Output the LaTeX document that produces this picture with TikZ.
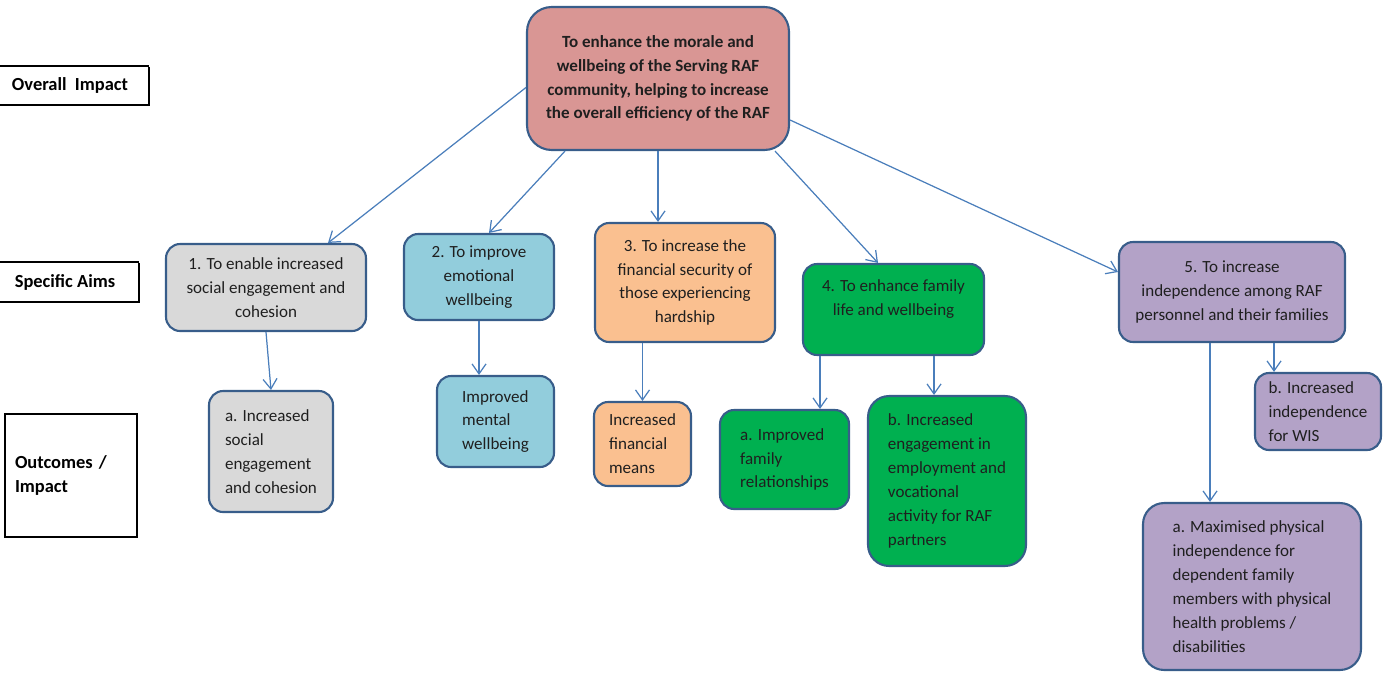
\documentclass[tikz,border=0pt]{standalone}
\usepackage{fontspec}
\setmainfont{Carlito}
\usetikzlibrary{arrows.meta,shadows}
\definecolor{edge}{HTML}{385D8A}
\definecolor{arrowblue}{HTML}{4A7EBB}
\definecolor{rafpink}{HTML}{D99694}
\definecolor{rafgray}{HTML}{D9D9D9}
\definecolor{rafblue}{HTML}{92CDDC}
\definecolor{rafpeach}{HTML}{FAC090}
\definecolor{rafgreen}{HTML}{00B050}
\definecolor{raflilac}{HTML}{B3A2C7}
\tikzset{
  box/.style  = {rectangle, draw=edge, line width=1.2pt, rounded corners=8pt,
                 align=center, inner sep=2pt, text=black!88,
                 font=\fontsize{9.7}{13.6}\selectfont},
  outc/.style = {box, align=left},
  lvl/.style  = {rectangle, draw, fill=white, line width=1.1pt, align=left, inner sep=2pt,
                 font=\fontsize{10.5}{13.6}\selectfont\bfseries,
                 drop shadow={shadow xshift=0.7pt, shadow yshift=-0.7pt,
                              opacity=1, fill=black}},
  arr/.style  = {-{Straight Barb[length=2mm,width=2.8mm]}, draw=arrowblue, line width=0.7pt}
}

\begin{document}
\begin{tikzpicture}[x=0.02cm,y=-0.02cm]
  \useasboundingbox (0,0) rectangle (1391,673);
  % level labels on the left
  \node[lvl,minimum width=3.14cm,minimum height=0.78cm] (impact) at (70,85.5) {Overall\ \ Impact};
  \node[lvl,minimum width=2.94cm,minimum height=0.8cm] (aims) at (65,282) {Specific Aims};
  \node[lvl,minimum width=2.64cm,minimum height=2.46cm,text width=2.24cm,inner xsep=0.2cm] (outcomes) at (71,475.5) {Outcomes /\\ Impact};
  % overall impact
  \node[box,fill=rafpink,rounded corners=14pt,minimum width=5.24cm,minimum height=2.86cm,font=\fontsize{9.7}{13.6}\selectfont\bfseries] (top) at (658,78.5)
    {To enhance the morale and\\ wellbeing of the Serving RAF\\ community, helping to increase\\ the overall efficiency of the RAF};
  % specific aims
  \node[box,fill=rafgray,minimum width=4cm,minimum height=1.74cm] (b1) at (266,287.5) {1. To enable increased\\ social engagement and\\ cohesion};
  \node[box,fill=rafblue,minimum width=3cm,minimum height=1.72cm] (b2) at (479,277) {2. To improve\\ emotional\\ wellbeing};
  \node[box,fill=rafpeach,minimum width=3.6cm,minimum height=2.38cm] (b3) at (685,282.5) {3. To increase the\\ financial security of\\ those experiencing\\ hardship};
  \node[box,fill=rafgreen,minimum width=3.62cm,minimum height=1.82cm] (b4) at (893.5,309.5) {4. To enhance family\\ life and wellbeing\\ \mbox{}};
  \node[box,fill=raflilac,minimum width=4.52cm,minimum height=2cm] (b5) at (1232,292) {5. To increase\\ independence among RAF\\ personnel and their families};
  % outcomes
  \node[outc,fill=rafgray,minimum width=2.48cm,minimum height=2.42cm] (o1) at (271,451.5) {a. Increased\\ social\\ engagement\\ and cohesion};
  \node[outc,fill=rafblue,minimum width=2.34cm,minimum height=1.82cm] (o2) at (495.5,421.5) {Improved\\ mental\\ wellbeing};
  \node[outc,fill=rafpeach,minimum width=1.94cm,minimum height=1.68cm] (o3) at (642.5,444) {Increased\\ financial\\ means};
  \node[outc,fill=rafgreen,minimum width=2.58cm,minimum height=1.98cm] (o4a) at (784.5,459.5) {a. Improved\\ family\\ relationships};
  \node[outc,fill=rafgreen,rounded corners=12pt,minimum width=3.16cm,minimum height=3.4cm] (o4b) at (947,481) {b. Increased\\ engagement in\\ employment and\\ vocational\\ activity for RAF\\ partners};
  \node[outc,fill=raflilac,minimum width=2.52cm,minimum height=1.54cm] (o5b) at (1318,411.5) {b. Increased\\ independence\\ for WIS};
  \node[outc,fill=raflilac,rounded corners=12pt,minimum width=4.36cm,minimum height=3.34cm] (o5a) at (1252,586.5) {a. Maximised physical\\ independence for\\ dependent family\\ members with physical\\ health problems /\\ disabilities};
  % connectors
  \draw[arr] ([yshift=-0.18cm]top.west) -- ([xshift=1.24cm]b1.north);
  \draw[arr] ([xshift=-1.86cm]top.south) -- ([xshift=0.2cm]b2.north);
  \draw[arr] (top.south) -- (top.south |- b3.north);
  \draw[arr] ([xshift=2.34cm]top.south) -- ([xshift=-0.31cm]b4.north);
  \draw[arr] ([yshift=-0.83cm]top.east) -- ([yshift=0.4cm]b5.west);
  \draw[arr] (b1.south) -- (o1.north);
  \draw[arr] (b2.south) -- (b2.south |- o2.north);
  \draw[arr] (o3.north |- b3.south) -- (o3.north);
  \draw[arr] ([xshift=0.71cm]o4a.north |- b4.south) -- ([xshift=0.71cm]o4a.north);
  \draw[arr] ([xshift=-0.26cm]o4b.north |- b4.south) -- ([xshift=-0.26cm]o4b.north);
  \draw[arr] ([xshift=-0.84cm]o5a.north |- b5.south) -- ([xshift=-0.84cm]o5a.north);
  \draw[arr] ([xshift=-0.88cm]o5b.north |- b5.south) -- ([xshift=-0.88cm]o5b.north);
\end{tikzpicture}
\end{document}
